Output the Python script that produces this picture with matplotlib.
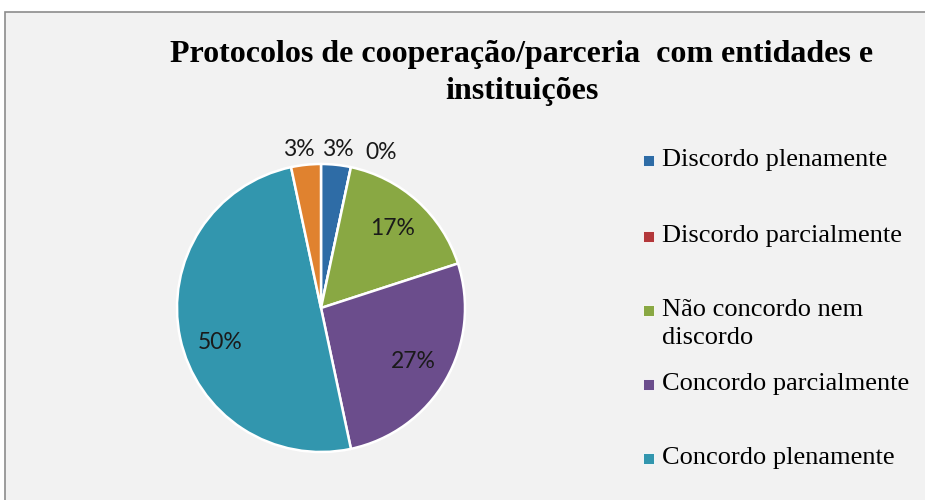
import numpy as np
import matplotlib
matplotlib.use("Agg")
import matplotlib.pyplot as plt
from matplotlib.patches import Rectangle

# Data (counts of responses; labels shown as rounded percentages)
categories = ["Discordo plenamente", "Discordo parcialmente",
              "Não concordo nem\ndiscordo", "Concordo parcialmente",
              "Concordo plenamente", "Sem resposta"]
counts = [1, 0, 5, 8, 15, 1]
legend_shown = 5  # the last category is not listed in the legend
colors = ["#2e6ca6", "#b3373a", "#89a843", "#6b4d8c", "#3296ae", "#e0822f"]
title = "Protocolos de cooperação/parceria  com entidades e\ninstituições"

W, H = 925, 500
fig = plt.figure(figsize=(W / 100, H / 100), dpi=100)
fig.patch.set_facecolor("white")
# chart area box
fig.patches.append(Rectangle((5 / W, -0.01), 1.0, 1 - 12 / H + 0.01,
                             transform=fig.transFigure, facecolor="#f2f2f2",
                             edgecolor="#8c8c8c", linewidth=1.2, zorder=-5))

cx, cy, r = 321, 308, 144
ax = fig.add_axes([(cx - r) / W, (H - cy - r) / H, 2 * r / W, 2 * r / H])
ax.set_zorder(2)

wedges, _ = ax.pie(counts, colors=colors, startangle=90, counterclock=False,
                   radius=1.0, wedgeprops=dict(edgecolor="white", linewidth=1.8))
ax.set_xlim(-1, 1)
ax.set_ylim(-1, 1)
ax.axis("off")

total = sum(counts)
pct = [round(100 * c / total) for c in counts]
lab_font = dict(family=["Lato", "DejaVu Sans"], fontsize=16.5, color="#1a1a1a")
for i, w in enumerate(wedges):
    mid = np.deg2rad((w.theta1 + w.theta2) / 2)
    frac = counts[i] / total
    if frac > 0.1:
        d = 0.74
        ang = mid
        if frac >= 0.5:
            ang = mid + np.deg2rad(7)
    else:
        d = 1.11
        ang = mid
        if counts[i] == 0:
            ang = np.deg2rad(69)
            d = 1.16
        elif i == len(wedges) - 1:
            ang = np.deg2rad(98)
    ax.text(d * np.cos(ang), d * np.sin(ang), f"{pct[i]}%", ha="center",
            va="center", clip_on=False, **lab_font)

fig.text(522 / W, 1 - 73 / H, title, ha="center", va="center",
         family="Liberation Serif", fontweight="bold", fontsize=23,
         linespacing=1.35)

# legend
ys = [160, 236, 324, 384, 458]
for i in range(legend_shown):
    y = ys[i]
    first_line_y = y if "\n" not in categories[i] else y - 14
    fig.patches.append(Rectangle((643 / W, 1 - (first_line_y + 5.5) / H), 11 / W, 11 / H,
                                 transform=fig.transFigure, facecolor=colors[i],
                                 edgecolor="white", linewidth=0.6, zorder=3))
    fig.text(662 / W, 1 - y / H, categories[i], ha="left", va="center",
             family="Liberation Serif", fontsize=19, linespacing=1.3,
             color="#000000")

fig.savefig("out.png", dpi=100, facecolor=fig.get_facecolor())
